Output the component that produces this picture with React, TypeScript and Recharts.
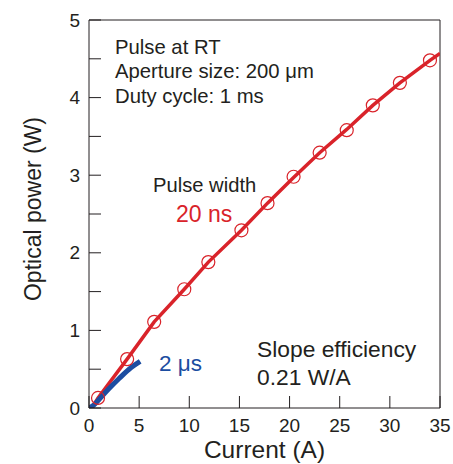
import React from 'react';
import { ComposedChart, Line, Scatter, XAxis, YAxis, ReferenceLine, Customized } from 'recharts';

const FONT = '"Liberation Sans", Arial, sans-serif';
const INK = '#231f20';
const RED = '#d9232a';
const BLUE = '#1c4da1';

const xTicks = [0, 5, 10, 15, 20, 25, 30, 35];
const yTicks = [0, 0.5, 1, 1.5, 2, 2.5, 3, 3.5, 4, 4.5, 5];

// 20 ns pulse: measured points (circles)
const nsCurrent = [0.9, 3.8, 6.5, 9.5, 11.9, 15.2, 17.8, 20.4, 23.0, 25.7, 28.3, 31.0, 34.0];
const nsPower = [0.13, 0.63, 1.11, 1.53, 1.88, 2.29, 2.64, 2.98, 3.29, 3.58, 3.9, 4.19, 4.48];

// 20 ns pulse: fitted curve
const nsFitCurrent = [0.3, 0.9, 3.8, 6.5, 9.5, 11.9, 15.2, 17.8, 20.4, 23.0, 25.7, 28.3, 31.0, 34.0, 35];
const nsFitPower = [0.0, 0.13, 0.63, 1.11, 1.53, 1.88, 2.29, 2.64, 2.97, 3.29, 3.59, 3.9, 4.19, 4.48, 4.57];

// 2 us pulse
const usCurrent = [0, 0.5, 1, 2, 3, 4, 5.1];
const usPower = [0, 0.04, 0.11, 0.25, 0.38, 0.5, 0.6];

const nsPoints = nsCurrent.map((x, i) => ({ x, y: nsPower[i] }));
const nsFit = nsFitCurrent.map((x, i) => ({ x, y: nsFitPower[i] }));
const usLine = usCurrent.map((x, i) => ({ x, y: usPower[i] }));

const YTick = (props: any) => {
  const { x, y, payload } = props;
  const v = payload.value;
  const isInt = Math.abs(v - Math.round(v)) < 1e-6;
  return (
    <g>
      <line x1={x} x2={x + 12} y1={y} y2={y} stroke={INK} strokeWidth={1} />
      {isInt && (
        <text x={x - 9} y={y + 6.5} textAnchor="end" fontSize={19} fontFamily={FONT} fill={INK}>
          {v}
        </text>
      )}
    </g>
  );
};

const XTick = (props: any) => {
  const { x, y, payload } = props;
  return (
    <g>
      <line x1={x} x2={x} y1={y} y2={y - 12} stroke={INK} strokeWidth={1} />
      <text x={x} y={y + 24} textAnchor="middle" fontSize={19} fontFamily={FONT} fill={INK}>
        {payload.value}
      </text>
    </g>
  );
};

const Annotations = () => (
  <g fontFamily={FONT}>
    <text x={33} y={201} transform="rotate(-90 33 201)" textAnchor="middle" fontSize={23} fill={INK}>
      Optical power (W)
    </text>
    <text x={107} y={46} fontSize={20.3} fill={INK}>Pulse at RT</text>
    <text x={107} y={70} fontSize={20.3} fill={INK}>Aperture size: 200 μm</text>
    <text x={107} y={95} fontSize={20.3} fill={INK}>Duty cycle: 1 ms</text>
    <text x={145} y={184} fontSize={20.2} fill={INK}>Pulse width</text>
    <text x={168} y={214} fontSize={23} fill={RED}>20 ns</text>
    <text x={151} y={363} fontSize={22.5} fill={BLUE}>2 μs</text>
    <text x={249} y={349} fontSize={22.8} fill={INK}>Slope efficiency</text>
    <text x={249} y={377} fontSize={22.8} fill={INK}>0.21 W/A</text>
  </g>
);

export default function App() {
  return (
    <div style={{ position: 'absolute', left: 8, top: 8 }}>
      <ComposedChart width={445} height={456} margin={{ top: 12, right: 13, left: 0, bottom: 0 }}>
        <XAxis
          type="number"
          dataKey="x"
          domain={[0, 35]}
          ticks={xTicks}
          interval={0}
          height={56}
          tickSize={0}
          tickMargin={0}
          tickLine={false}
          tick={<XTick />}
          stroke={INK}
          allowDataOverflow
          label={{ value: 'Current (A)', position: 'insideBottom', offset: 6, fontSize: 24.5, fill: INK, fontFamily: FONT }}
        />
        <YAxis
          type="number"
          dataKey="y"
          domain={[0, 5]}
          ticks={yTicks}
          interval={0}
          width={81}
          tickSize={0}
          tickMargin={0}
          tickLine={false}
          tick={<YTick />}
          stroke={INK}
          allowDataOverflow
        />
        <ReferenceLine y={5} stroke={INK} strokeWidth={1} />
        <ReferenceLine x={35} stroke={INK} strokeWidth={1} />
        <Line
          data={nsFit}
          dataKey="y"
          type="linear"
          stroke={RED}
          strokeWidth={3.5}
          dot={false}
          activeDot={false}
          isAnimationActive={false}
        />
        <Scatter
          data={nsPoints}
          dataKey="y"
          fill="none"
          isAnimationActive={false}
          shape={(p: any) => <circle cx={p.cx} cy={p.cy} r={6.5} fill="none" stroke={RED} strokeWidth={1.2} />}
        />
        <Line
          data={usLine}
          dataKey="y"
          type="monotone"
          stroke={BLUE}
          strokeWidth={5}
          dot={false}
          activeDot={false}
          isAnimationActive={false}
        />
        <Customized component={Annotations} />
      </ComposedChart>
    </div>
  );
}
